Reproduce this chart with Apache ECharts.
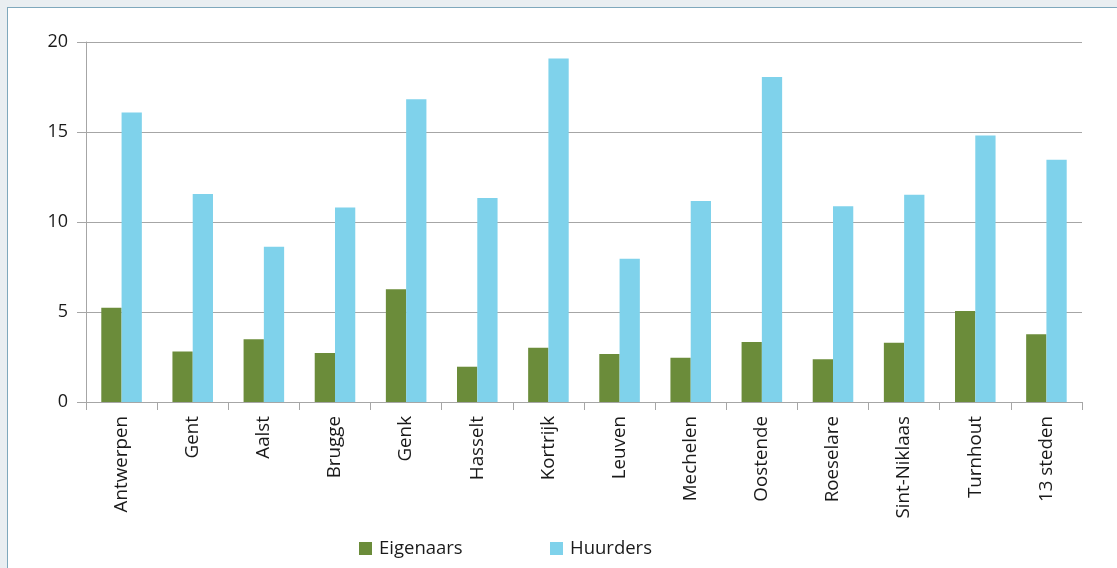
<!DOCTYPE html>
<html>
<head>
<meta charset="utf-8">
<script src="https://cdn.jsdelivr.net/npm/echarts@6/dist/echarts.min.js"></script>
<style>
  html, body { margin: 0; padding: 0; width: 1117px; height: 568px; overflow: hidden; background: #e9eef1; }
  #frame { position: absolute; left: 7px; top: 7px; width: 1120px; height: 570px; background: #ffffff;
           border-left: 1px solid #7fa8bc; border-top: 1px solid #7fa8bc; }
  #chart { position: absolute; left: 0; top: 0; width: 1117px; height: 568px; }
</style>
</head>
<body>
<div id="frame"></div>
<div id="chart"></div>
<script>
const categories = ['Antwerpen', 'Gent', 'Aalst', 'Brugge', 'Genk', 'Hasselt', 'Kortrijk', 'Leuven',
                    'Mechelen', 'Oostende', 'Roeselare', 'Sint-Niklaas', 'Turnhout', '13 steden'];
const eigenaars = [5.23, 2.81, 3.49, 2.72, 6.27, 1.96, 3.01, 2.66, 2.46, 3.34, 2.38, 3.29, 5.06, 3.77];
const huurders  = [16.08, 11.55, 8.63, 10.81, 16.82, 11.33, 19.08, 7.96, 11.16, 18.06, 10.87, 11.51, 14.81, 13.46];
const yTicks = [0, 5, 10, 15, 20];

const chart = echarts.init(document.getElementById('chart'), null, { renderer: 'canvas' });
const font = '"Open Sans", "Noto Sans", sans-serif';
chart.setOption({
  backgroundColor: 'transparent',
  animation: false,
  textStyle: { fontFamily: font },
  grid: { left: 86, right: 35, top: 42, bottom: 166, containLabel: false },
  legend: [
    { data: ['Eigenaars'], left: 354, top: 534, icon: 'rect', itemWidth: 13, itemHeight: 13, itemGap: 0,
      textStyle: { fontSize: 18.5, color: '#1a1a1a', fontFamily: font, padding: [0, 0, 0, 2] } },
    { data: ['Huurders'], left: 545, top: 534, icon: 'rect', itemWidth: 13, itemHeight: 13, itemGap: 0,
      textStyle: { fontSize: 18.5, color: '#1a1a1a', fontFamily: font, padding: [0, 0, 0, 2] } }
  ],
  xAxis: {
    type: 'category',
    data: categories,
    boundaryGap: true,
    axisLine: { show: true, lineStyle: { color: '#a6a6a6', width: 1 } },
    axisTick: { show: true, length: 8, alignWithLabel: false, lineStyle: { color: '#a6a6a6' } },
    axisLabel: { rotate: 90, interval: 0, fontSize: 18.8, color: '#1a1a1a', margin: 14, fontFamily: font }
  },
  yAxis: {
    type: 'value',
    min: yTicks[0],
    max: yTicks[yTicks.length - 1],
    interval: 5,
    axisLine: { show: true, lineStyle: { color: '#a6a6a6', width: 1 } },
    axisTick: { show: true, length: 9, lineStyle: { color: '#a6a6a6' } },
    splitLine: { show: true, lineStyle: { color: '#a6a6a6', width: 1 } },
    axisLabel: { fontSize: 18, color: '#1a1a1a', margin: 18, fontFamily: font }
  },
  series: [
    { name: 'Eigenaars', type: 'bar', data: eigenaars, barGap: '0%', barCategoryGap: '43%',
      itemStyle: { color: '#6b8c3a' } },
    { name: 'Huurders', type: 'bar', data: huurders, barGap: '0%', barCategoryGap: '43%',
      itemStyle: { color: '#7fd2eb' } }
  ]
});
</script>
</body>
</html>
